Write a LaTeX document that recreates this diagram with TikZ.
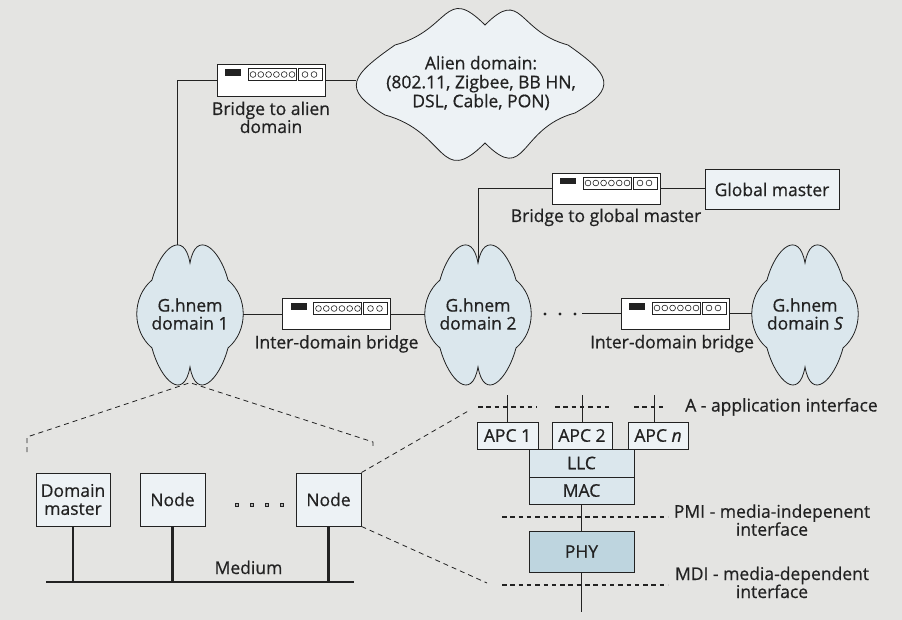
\documentclass[tikz,border=0pt]{standalone}
\usepackage{fontspec}
\setmainfont{Open Sans}[FakeBold=0.6]
\usetikzlibrary{calc}
\definecolor{bg}{HTML}{E4E4E2}
\definecolor{gfill}{HTML}{DBE7ED}
\definecolor{lfill}{HTML}{EDF2F5}
\definecolor{phyfill}{HTML}{BED5DF}
\definecolor{ink}{HTML}{222222}
\tikzset{
  every node/.style={font=\fontsize{17.5}{18}\selectfont, text=ink},
  cloudline/.style={draw=ink, line width=0.8pt},
  gcloud/.pic={\path[cloudline, fill=gfill] (0,51) to[out=100,in=75,looseness=2.1] (-38,34)
     to[out=220,in=140] (-38,-34) to[out=285,in=260,looseness=2.1] (0,-53)
     to[out=280,in=255,looseness=2.1] (38,-34) to[out=40,in=320] (38,34)
     to[out=105,in=80,looseness=2.1] (0,51) -- cycle;},
  acloud/.pic={\path[cloudline, fill=lfill] (2,59) to[out=135,in=15,looseness=1.6] (-88,39)
     to[out=215,in=150,looseness=1.9] (-98,-31) to[out=345,in=225,looseness=1.6] (2,-59)
     to[out=315,in=195,looseness=1.6] (92,-29) to[out=30,in=325,looseness=1.9] (85,39)
     to[out=165,in=45,looseness=1.6] (2,59) -- cycle;},
  cnode/.style={inner sep=0pt, align=center},
  lbl/.style={inner sep=0pt, align=center},
  box/.style={draw=ink, line width=0.9pt, fill=lfill, inner sep=0pt, align=center},
  conn/.style={draw=ink, line width=0.9pt},
  busline/.style={draw=ink, line width=2.2pt},
  brk/.style={draw=ink, line width=0.8pt, dash pattern=on 5pt off 4pt},
  iface/.style={draw=ink, line width=1.3pt, dash pattern=on 4.5pt off 3.8pt},
  bridge/.style={draw=ink, line width=0.9pt, fill=white, minimum width=108pt, minimum height=32pt, inner sep=0pt,
    path picture={
      \fill[ink] ([shift={(8pt,-5pt)}]path picture bounding box.north west) rectangle ++(16pt,-6.5pt);
      \draw[ink, line width=0.7pt] ([shift={(31pt,-4pt)}]path picture bounding box.north west) rectangle ++(48pt,-12pt);
      \foreach \i in {0,...,5}
        \draw[ink, line width=0.6pt] ([shift={(36pt+7.8pt*\i,-10pt)}]path picture bounding box.north west) circle[radius=2.9pt];
      \draw[ink, line width=0.7pt] ([shift={(81pt,-4pt)}]path picture bounding box.north west) rectangle ++(24pt,-12pt);
      \draw[ink, line width=0.6pt] ([shift={(88pt,-10pt)}]path picture bounding box.north west) circle[radius=2.9pt];
      \draw[ink, line width=0.6pt] ([shift={(97pt,-10pt)}]path picture bounding box.north west) circle[radius=2.9pt];
    }},
}
\begin{document}
\begin{tikzpicture}[x=1pt,y=1pt]
\fill[bg] (0,0) rectangle (902,-620);
\useasboundingbox (0,0) rectangle (902,-620);

% clouds
\pic at (483,-84) {acloud};
\pic at (190,-314) {gcloud};
\pic at (478,-314) {gcloud};
\pic at (805,-314) {gcloud};

\node[cnode, minimum width=250pt, minimum height=141pt, font=\fontsize{17.5}{19}\selectfont] (al) at (481,-83)
  {Alien domain:\\(802.11, Zigbee, BB HN,\\DSL, Cable, PON)};
\node[cnode, minimum width=105pt, minimum height=137pt] (d1) at (190,-314) {G.hnem\\domain 1};
\node[cnode, minimum width=105pt, minimum height=137pt] (d2) at (478,-314) {G.hnem\\domain 2};
\node[cnode, minimum width=105pt, minimum height=137pt] (dS) at (805,-314) {G.hnem\\domain \textit{S}};

% bridges
\node[bridge] (ba) at (271,-80.5) {};
\node[lbl, anchor=base] (bal) at ([yshift=-36pt]ba.south) {Bridge to alien\\domain};
\node[bridge, minimum height=31pt] (bg) at (606,-188.5) {};
\node[lbl, anchor=base] (bgl) at ([yshift=-17.5pt]bg.south) {Bridge to global master};
\node[box, minimum width=134pt, minimum height=40pt] (gm) at (772,-189.5) {Global master};
\node[bridge, minimum height=31pt] (ib1) at (336.5,-314) {};
\node[lbl, anchor=base] (ib1l) at ([yshift=-18.5pt]ib1.south) {Inter-domain bridge};
\node[bridge, minimum height=31pt] (ib2) at (675,-313.5) {};
\node[lbl, anchor=base] (ib2l) at ([shift={(-3pt,-18.8pt)}]ib2.south) {Inter-domain bridge};

% connectors in the upper part
\draw[conn] ([xshift=-13pt]d1.north) |- (ba.west);
\draw[conn] (ba.east) -- (ba.east -| al.west);
\draw[conn] ([yshift=-17pt]d2.north) |- (bg.west);
\draw[conn] (bg.east) -- (bg.east -| gm.west);
\draw[conn] (d1.east |- ib1.west) -- (ib1.west);
\draw[conn] (ib1.east) -- (ib1.east -| d2.west);
\foreach \x in {545,560,575} \fill[ink] (\x,-314) circle[radius=1.7pt];
\coordinate (dotsend) at (582,-313.5);
\draw[conn] (dotsend) -- (ib2.west);
\draw[conn] (ib2.east) -- (ib2.east -| dS.west);

% domain detail (bottom left)
\coordinate (cl1) at (27,-437);
\coordinate (cl2) at (27,-452);
\coordinate (cr1) at (373,-442);
\coordinate (cr2) at (373,-448);
\draw[brk] (cl2) -- (cl1) -- (d1.south) -- (cr1) -- (cr2);

\node[box, minimum width=74pt, minimum height=53pt] (dm) at (73,-499.5) {Domain\\master};
\node[box, minimum width=65pt, minimum height=53pt] (n2) at (172.5,-499.5) {Node};
\node[box, minimum width=65pt, minimum height=53pt] (n3) at (328.5,-499.5) {Node};
\foreach \x in {237,252,267,282}
  \draw[ink, line width=0.7pt, fill=ink!35] (\x-1.5,-503.5) rectangle ++(3,-3);
\coordinate (busL) at (46,-582);
\coordinate (busR) at (354,-582);
\draw[busline] (busL) -- (busR);
\draw[busline] (dm.south) -- (dm.south |- busL);
\draw[busline] (n2.south) -- (n2.south |- busL);
\draw[busline] (n3.south) -- (n3.south |- busL);
\node[lbl, anchor=base] (med) at (248.5,-574) {Medium};

\coordinate (zu) at (470,-410);
\coordinate (zd) at (487,-583);
\draw[brk] (n3.north east) -- (zu);
\draw[brk] (n3.south east) -- (zd);

% protocol stack (bottom right)
\node[box, minimum width=61pt, minimum height=27pt] (a1) at (507.5,-435.5) {APC 1};
\node[box, minimum width=60pt, minimum height=27pt] (a2) at (582,-435.5) {APC 2};
\node[box, minimum width=60pt, minimum height=27pt] (an) at (658,-435.5) {APC \textit{n}};
\node[box, fill=gfill, minimum width=105pt, minimum height=28pt] (llc) at (581.5,-463) {LLC};
\node[box, fill=gfill, minimum width=105pt, minimum height=27pt] (mac) at (581.5,-490.5) {MAC};
\node[box, fill=phyfill, minimum width=105pt, minimum height=41pt] (phy) at (581.5,-551.5) {PHY};

\draw[conn] (a1.north) -- ++(0,27);
\draw[conn] (a2.north) -- ++(0,27);
\draw[conn] ([xshift=-4pt]an.north) -- ++(0,27);
\draw[conn] (mac.south) -- (phy.north);
\draw[conn] (phy.south) -- ++(0,-40);

\draw[iface] (478,-407) -- (537,-407);
\draw[iface] (555,-407) -- (613,-407);
\draw[iface] (634,-407) -- (664,-407);
\draw[iface] (502,-517) -- (668,-517);
\draw[iface] (502,-585) -- (668,-585);

\node[lbl, anchor=base west] (la) at (685,-411.5) {A - application interface};
\node[lbl, anchor=base] (lp) at (772,-535.7) {PMI - media-indepenent\\interface};
\node[lbl, anchor=base] (lm) at (772,-598) {MDI - media-dependent\\interface};
\end{tikzpicture}
\end{document}
